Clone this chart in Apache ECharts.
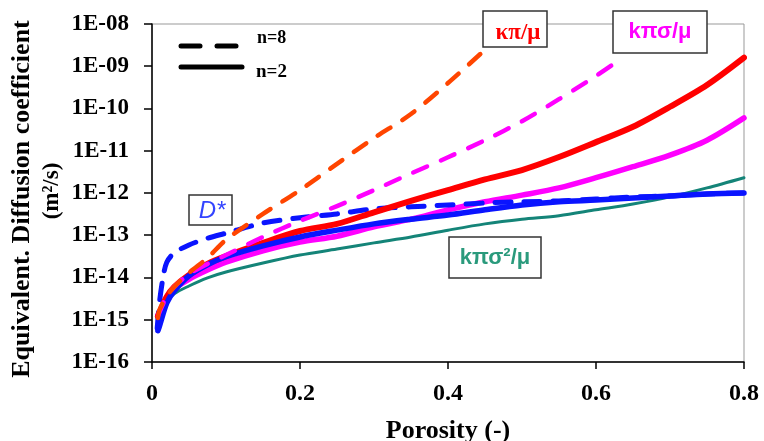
<!DOCTYPE html>
<html>
<head>
<meta charset="utf-8">
<script src="https://cdn.jsdelivr.net/npm/echarts@6/dist/echarts.min.js"></script>
<style>html,body{margin:0;padding:0;background:#fff}#c{width:764px;height:441px}</style>
</head>
<body>
<div id="c"></div>
<script>
// ---- data ----
const xTicks = [0, 0.2, 0.4, 0.6, 0.8];
const yTickExponents = [-16, -15, -14, -13, -12, -11, -10, -9, -8];

const porosity = [0.008, 0.01, 0.02, 0.03, 0.05, 0.075, 0.1, 0.15, 0.2, 0.25, 0.3, 0.35, 0.4, 0.45, 0.5, 0.55, 0.6, 0.65, 0.7, 0.75, 0.8];
const redSolid = [1.2e-15, 1.45e-15, 3.5e-15, 6.0e-15, 1.15e-14, 2.1e-14, 3.2e-14, 6.6e-14, 1.26e-13, 1.86e-13, 3.5e-13, 6.5e-13, 1.17e-12, 2.1e-12, 3.5e-12, 7.1e-12, 1.6e-11, 3.7e-11, 1.1e-10, 3.6e-10, 1.6e-9];
const magentaSolid = [1.3e-15, 1.5e-15, 3.5e-15, 5.4e-15, 9.1e-15, 1.5e-14, 2.3e-14, 4.3e-14, 6.9e-14, 9.5e-14, 1.58e-13, 2.4e-13, 4.0e-13, 6.2e-13, 8.9e-13, 1.32e-12, 2.3e-12, 4.2e-12, 7.9e-12, 1.78e-11, 6.0e-11];
const tealSolid = [9.5e-16, 1.2e-15, 2.6e-15, 4.1e-15, 6.3e-15, 9.8e-15, 1.35e-14, 2.2e-14, 3.4e-14, 4.7e-14, 6.6e-14, 9.1e-14, 1.32e-13, 1.86e-13, 2.4e-13, 2.9e-13, 4.0e-13, 5.5e-13, 8.1e-13, 1.32e-12, 2.3e-12];
const blueSolid = [5.5e-16, 7.0e-16, 2.5e-15, 4.8e-15, 1.1e-14, 2.0e-14, 3.1e-14, 5.6e-14, 9.1e-14, 1.32e-13, 1.86e-13, 2.4e-13, 3.0e-13, 4.0e-13, 5.2e-13, 6.2e-13, 6.8e-13, 7.6e-13, 8.5e-13, 9.5e-13, 1.0e-12];

const porosityBlueDash = [0.007, 0.01, 0.015, 0.02, 0.03, 0.05, 0.075, 0.1, 0.15, 0.2, 0.25, 0.3, 0.35, 0.4, 0.45, 0.5, 0.55, 0.6, 0.65, 0.7, 0.75, 0.8];
const blueDash = [6.3e-16, 2.5e-15, 1.02e-14, 2.3e-14, 3.8e-14, 5.9e-14, 8.5e-14, 1.12e-13, 1.95e-13, 2.6e-13, 3.2e-13, 4.2e-13, 4.7e-13, 5.2e-13, 5.8e-13, 6.2e-13, 6.5e-13, 7.2e-13, 8.1e-13, 8.5e-13, 9.5e-13, 1.0e-12];

const porosityMagentaDash = [0.008, 0.01, 0.02, 0.03, 0.05, 0.075, 0.1, 0.15, 0.2, 0.25, 0.3, 0.35, 0.4, 0.45, 0.5, 0.55, 0.6, 0.626];
const magentaDash = [1.2e-15, 1.5e-15, 3.6e-15, 6.0e-15, 1.2e-14, 2.1e-14, 3.4e-14, 9.1e-14, 2.2e-13, 4.9e-13, 1.17e-12, 2.9e-12, 7.0e-12, 1.78e-11, 5.0e-11, 1.66e-10, 5.9e-10, 1.2e-9];

const porosityRedDash = [0.008, 0.01, 0.02, 0.03, 0.05, 0.075, 0.1, 0.15, 0.2, 0.25, 0.3, 0.35, 0.4, 0.447];
const redDash = [1.1e-15, 1.7e-15, 3.6e-15, 6.0e-15, 1.29e-14, 2.9e-14, 7.8e-14, 3.2e-13, 1.17e-12, 4.9e-12, 2.0e-11, 7.4e-11, 4.0e-10, 2.2e-9];

const zip = (xs, ys) => xs.map((x, i) => [x, ys[i]]);

const SERIF = "'Liberation Serif', 'Times New Roman', serif";
const SANS = "'Liberation Sans', Arial, sans-serif";

function line(name, xs, ys, color, width, dash, z) {
  return {
    name, type: 'line', data: zip(xs, ys), showSymbol: false, smooth: 0.3, z: z,
    lineStyle: { color, width, type: dash || 'solid', cap: 'round', join: 'round' },
    emphasis: { disabled: true }
  };
}

function boxLabel(x, y, w, h, text, fill, font, tx, ty) {
  return [
    { type: 'rect', shape: { x, y, width: w, height: h }, style: { fill: '#fff', stroke: '#333', lineWidth: 1.5 }, z: 100 },
    { type: 'text', x: tx, y: ty, style: { text, fill, font, align: 'center', verticalAlign: 'middle' }, z: 101 }
  ];
}

const chart = echarts.init(document.getElementById('c'), null, { renderer: 'canvas' });
chart.setOption({
  animation: false,
  backgroundColor: '#fff',
  grid: { left: 152, right: 20, top: 24, bottom: 79, outerBoundsMode: 'none', containLabel: false,
    show: true, borderColor: '#999', borderWidth: 1, backgroundColor: 'transparent' },
  xAxis: {
    type: 'value', min: xTicks[0], max: xTicks[xTicks.length - 1], interval: 0.2,
    axisLine: { show: true, lineStyle: { color: '#000', width: 1.5 } },
    axisTick: { show: true, inside: false, length: 7, lineStyle: { color: '#000', width: 1.5 } },
    splitLine: { show: false },
    axisLabel: { margin: 20, fontFamily: SERIF, fontWeight: 'bold', fontSize: 24, color: '#000',
      formatter: v => v === 0 ? '0' : v.toFixed(1) },
    name: 'Porosity (-)', nameLocation: 'middle', nameGap: 56,
    nameTextStyle: { fontFamily: SERIF, fontWeight: 'bold', fontSize: 26, color: '#000' }
  },
  yAxis: {
    type: 'log', logBase: 10, min: Math.pow(10, yTickExponents[0]), max: Math.pow(10, yTickExponents[yTickExponents.length - 1]), interval: 1,
    axisLine: { show: true, lineStyle: { color: '#000', width: 1.5 } },
    axisTick: { show: true, inside: false, length: 8, lineStyle: { color: '#000', width: 1.5 } },
    minorTick: { show: false },
    splitLine: { show: false },
    axisLabel: { margin: 23, fontFamily: SERIF, fontWeight: 'bold', fontSize: 23, color: '#000',
      formatter: v => { const e = Math.round(Math.log10(v)); return '1E-' + String(-e).padStart(2, '0'); } }
  },
  series: [
    line('kπσ²/μ n=2', porosity, tealSolid, '#148478', 3, null, 2),
    line('kπσ/μ n=2', porosity, magentaSolid, '#ff00ff', 5.5, null, 3),
    line('D* n=8', porosityBlueDash, blueDash, '#0a14ff', 5, [16, 13], 4),
    line('κπ/μ n=2', porosity, redSolid, '#ff0000', 6, null, 5),
    line('D* n=2', porosity, blueSolid, '#0a14ff', 5.5, null, 6),
    line('kπσ/μ n=8', porosityMagentaDash, magentaDash, '#ff00ff', 4.5, [15, 15], 7),
    line('κπ/μ n=8', porosityRedDash, redDash, '#ff4500', 4.5, [15, 14], 8)
  ],
  graphic: [
    // legend
    { type: 'line', shape: { x1: 181, y1: 46, x2: 200, y2: 46 }, style: { stroke: '#000', lineWidth: 5, lineCap: 'round' }, z: 100 },
    { type: 'line', shape: { x1: 217, y1: 46, x2: 236, y2: 46 }, style: { stroke: '#000', lineWidth: 5, lineCap: 'round' }, z: 100 },
    { type: 'line', shape: { x1: 181, y1: 67, x2: 242, y2: 67 }, style: { stroke: '#000', lineWidth: 5, lineCap: 'round' }, z: 100 },
    { type: 'text', x: 257, y: 38, style: { text: 'n=8', fill: '#000', font: 'bold 18px ' + SERIF, align: 'left', verticalAlign: 'middle' }, z: 100 },
    { type: 'text', x: 256, y: 72, style: { text: 'n=2', fill: '#000', font: 'bold 19px ' + SERIF, align: 'left', verticalAlign: 'middle' }, z: 100 },
    // y axis title
    { type: 'text', x: 22, y: 199, rotation: Math.PI / 2, style: { text: 'Equivalent. Diffusion coefficient', fill: '#000', font: 'bold 26px ' + SERIF, align: 'center', verticalAlign: 'middle' }, z: 100 },
    { type: 'text', x: 52, y: 191, rotation: Math.PI / 2, style: { text: '(m²/s)', fill: '#000', font: 'bold 23px ' + SERIF, align: 'center', verticalAlign: 'middle' }, z: 100 },
    // curve labels
    ...boxLabel(483, 11, 64, 36, 'κπ/μ', '#ff0000', 'bold 23px ' + SERIF, 518, 33),
    ...boxLabel(613, 11, 94, 42, 'kπσ/μ', '#ff00ff', 'bold 22px ' + SANS, 660, 32),
    ...boxLabel(189, 195, 43, 30, 'D*', '#3344ff', 'italic 24px ' + SANS, 212, 211),
    ...boxLabel(449, 237, 92, 41, 'kπσ²/μ', '#2a9a7c', 'bold 22px ' + SANS, 495, 258)
  ]
});
</script>
</body>
</html>
